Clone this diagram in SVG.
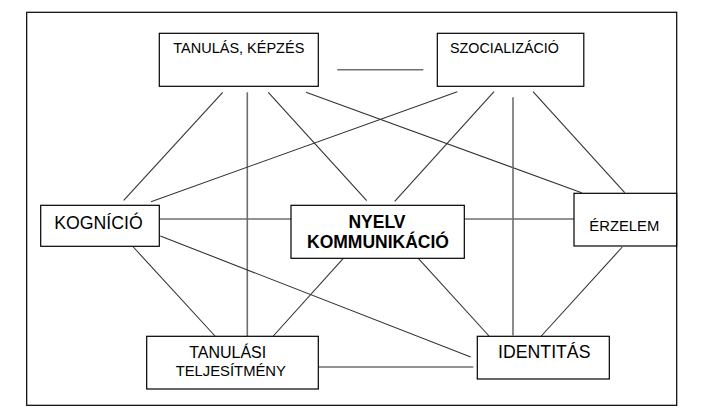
<svg xmlns="http://www.w3.org/2000/svg" width="708" height="412" viewBox="0 0 708 412">
<style>
.box{fill:#fff;stroke:#000;stroke-width:1.2}
.t{font-family:"Liberation Sans",Arial,sans-serif;fill:#000}
.d{stroke:#333;stroke-width:1.1;fill:none}
.a{stroke:#6e6e6e;stroke-width:1.6;fill:none}
</style>
<rect x="0" y="0" width="708" height="412" fill="#fff"/>
<rect x="26.7" y="12.3" width="650" height="393" fill="none" stroke="#000" stroke-width="1.2"/>
<g id="connectors">
<line class="a" x1="337.3" y1="69.7" x2="423.3" y2="69.7"/>
<line class="d" x1="222.7" y1="92.3" x2="123.7" y2="200.3"/>
<line class="a" x1="247.3" y1="92.3" x2="247.3" y2="336"/>
<line class="d" x1="268.3" y1="92.3" x2="366.7" y2="200.7"/>
<line class="d" x1="306" y1="92.3" x2="581.7" y2="192.7"/>
<line class="d" x1="457.3" y1="91.7" x2="151" y2="201.7"/>
<line class="d" x1="494" y1="91.7" x2="394.7" y2="201.3"/>
<line class="a" x1="513" y1="97.3" x2="513" y2="335.5"/>
<line class="d" x1="533" y1="91.7" x2="624.7" y2="192.7"/>
<line class="a" x1="159.3" y1="219" x2="291" y2="219"/>
<line class="a" x1="464.3" y1="219" x2="574" y2="219"/>
<line class="d" x1="160.3" y1="236" x2="470.7" y2="357"/>
<line class="d" x1="133.3" y1="247" x2="215" y2="336"/>
<line class="d" x1="343.3" y1="258.3" x2="273.3" y2="336"/>
<line class="d" x1="418.3" y1="258.3" x2="489" y2="336"/>
<line class="d" x1="622.3" y1="247" x2="541.3" y2="336"/>
<line class="a" x1="318.3" y1="367" x2="473.3" y2="367"/>
</g>
<g id="tanulas-kepzes">
<rect class="box" x="159.3" y="33.3" width="159" height="53"/>
<text class="t" x="238.8" y="53.3" font-size="14.5" text-anchor="middle">TANULÁS, KÉPZÉS</text>
</g>
<g id="szocializacio">
<rect class="box" x="437.3" y="33.3" width="146.5" height="53"/>
<text class="t" x="450" y="53" font-size="14.3">SZOCIALIZÁCIÓ</text>
</g>
<g id="kognicio">
<rect class="box" x="40.7" y="205.3" width="118.6" height="41"/>
<text class="t" x="98.5" y="228.7" font-size="17.7" text-anchor="middle">KOGNÍCIÓ</text>
</g>
<g id="nyelv-kommunikacio">
<rect class="box" x="291" y="205.3" width="173.3" height="53"/>
<text class="t" x="377" y="228.3" font-size="17.5" font-weight="bold" text-anchor="middle">NYELV</text>
<text class="t" x="378" y="248.3" font-size="17.5" font-weight="bold" text-anchor="middle">KOMMUNIKÁCIÓ</text>
</g>
<g id="erzelem">
<rect class="box" x="574" y="193.3" width="102.7" height="52.7"/>
<text class="t" x="624.3" y="230.7" font-size="14.8" text-anchor="middle">ÉRZELEM</text>
</g>
<g id="tanulasi-teljesitmeny">
<rect class="box" x="146.7" y="336.3" width="171.6" height="52.7"/>
<text class="t" x="227.7" y="357.5" font-size="16" text-anchor="middle">TANULÁSI</text>
<text class="t" x="230.8" y="375.7" font-size="14.8" text-anchor="middle">TELJESÍTMÉNY</text>
</g>
<g id="identitas">
<rect class="box" x="477.3" y="336.3" width="132" height="42.7"/>
<text class="t" x="544.3" y="358.3" font-size="17.7" text-anchor="middle">IDENTITÁS</text>
</g>
</svg>
